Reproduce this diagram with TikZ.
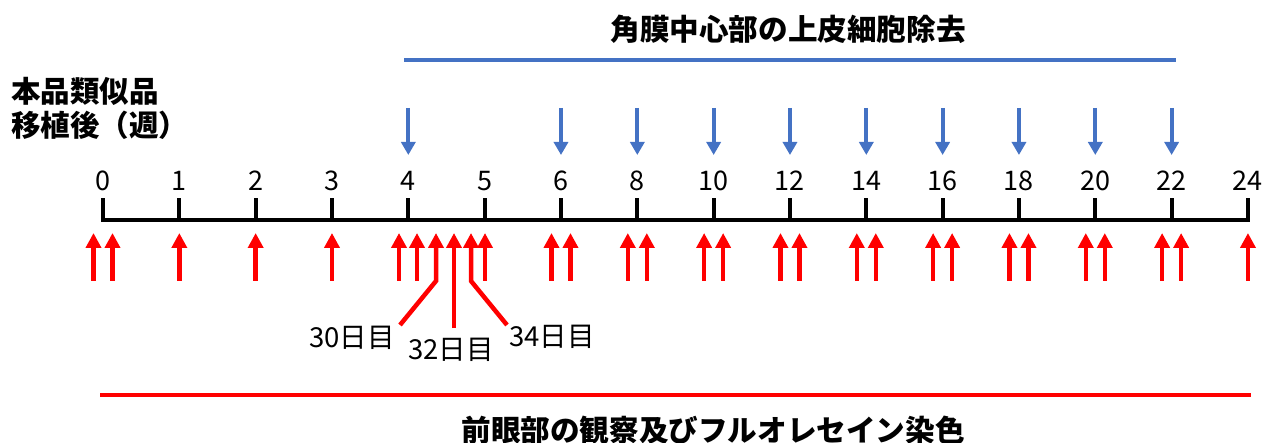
\documentclass[tikz,border=0pt]{standalone}
\usepackage{fontspec}
\setmainfont{Noto Sans CJK JP}
\usetikzlibrary{arrows.meta}
\definecolor{myblue}{HTML}{4472C4}
\definecolor{myred}{HTML}{FF0000}
\tikzset{
  redarrow/.style={draw=myred, line width=4.5pt, line join=miter, -{Triangle[width=15pt,length=15pt]}},
  bluearrow/.style={draw=myblue, line width=4pt, -{Triangle[width=14pt,length=13pt]}},
  ticklabel/.style={font=\fontsize{27}{27}\selectfont, inner sep=0pt},
  daylabel/.style={font=\fontsize{27.5}{27.5}\selectfont, inner sep=0pt},
  heading/.style={font=\bfseries\fontsize{29.6}{29.6}\selectfont, inner sep=0pt},
  sidelabel/.style={font=\bfseries\fontsize{29.5}{34}\selectfont, inner sep=0pt, align=left},
  axisline/.style={line width=4pt, draw=black},
  bar/.style={line width=4.5pt},
}
\begin{document}
\begin{tikzpicture}[x=1pt,y=-1pt]
\useasboundingbox (0,0) rectangle (1265,443);
% headings and bars
\node[heading] (top) at (788,29) {角膜中心部の上皮細胞除去};
\coordinate (bl) at (404,60);
\coordinate (br) at (1176,60);
\draw[bar, draw=myblue] (bl) -- (br);
\node[heading] (bottom) at (713,430) {前眼部の観察及びフルオレセイン染色};
\coordinate (rl) at (100,395);
\coordinate (rr) at (1251,395);
\draw[bar, draw=myred] (rl) -- (rr);
\node[sidelabel, anchor=west] (side) at (11,108) {本品類似品\\移植後（週）};
% axis
\coordinate (a0) at (101,220);
\coordinate (a1) at (1250,220);
\draw[axisline] (a0) -- (a1);
\foreach \lab [count=\i from 0] in {0,1,2,3,4,5,6,8,10,12,14,16,18,20,22,24} {
  \pgfmathsetmacro{\xx}{103+76.33*\i}
  \coordinate (t\i) at (\xx,220);
  \coordinate (tt\i) at (\xx,198);
  \draw[axisline, line cap=butt] (t\i) -- (tt\i);
  \node[ticklabel] (l\i) at (\xx,181) {\lab};
}
% blue arrows
\foreach \i in {4,6,7,8,9,10,11,12,13,14} {
  \pgfmathsetmacro{\xx}{103+76.33*\i}
  \coordinate (bs\i) at (\xx,108);
  \coordinate (be\i) at (\xx,155);
  \draw[bluearrow] (bs\i) -- (be\i);
}
% red arrow pairs
\foreach \i in {0,6,7,8,9,10,11,12,13,14} {
  \pgfmathsetmacro{\xa}{103+76.33*\i-9.5}
  \pgfmathsetmacro{\xb}{103+76.33*\i+9.5}
  \coordinate (ra\i) at (\xa,281);
  \coordinate (rb\i) at (\xa,233);
  \coordinate (rc\i) at (\xb,281);
  \coordinate (rd\i) at (\xb,233);
  \draw[redarrow] (ra\i) -- (rb\i);
  \draw[redarrow] (rc\i) -- (rd\i);
}
% red single arrows
\foreach \i in {1,2,3,15} {
  \pgfmathsetmacro{\xx}{103+76.33*\i}
  \coordinate (sa\i) at (\xx,281);
  \coordinate (sb\i) at (\xx,233);
  \draw[redarrow] (sa\i) -- (sb\i);
}
% arrows around weeks 4-5
\coordinate (w4a) at (399,281); \coordinate (w4b) at (399,233);
\coordinate (w4c) at (417,281); \coordinate (w4d) at (417,233);
\coordinate (w5a) at (485,281); \coordinate (w5b) at (485,233);
\draw[redarrow] (w4a) -- (w4b);
\draw[redarrow] (w4c) -- (w4d);
\draw[redarrow] (w5a) -- (w5b);
% day labels with bent arrows
\node[daylabel] (d30) at (352,338) {30日目};
\node[daylabel] (d32) at (451,350) {32日目};
\node[daylabel] (d34) at (552,337) {34日目};
\coordinate (e30) at (400,325);
\coordinate (k30) at (436,281);
\coordinate (h30) at (436,233);
\coordinate (e32) at (454,328);
\coordinate (h32) at (454,233);
\coordinate (e34) at (507,325);
\coordinate (k34) at (471,281);
\coordinate (h34) at (471,233);
\draw[redarrow] (e30) -- (k30) -- (h30);
\draw[redarrow] (e32) -- (h32);
\draw[redarrow] (e34) -- (k34) -- (h34);
\end{tikzpicture}
\end{document}
